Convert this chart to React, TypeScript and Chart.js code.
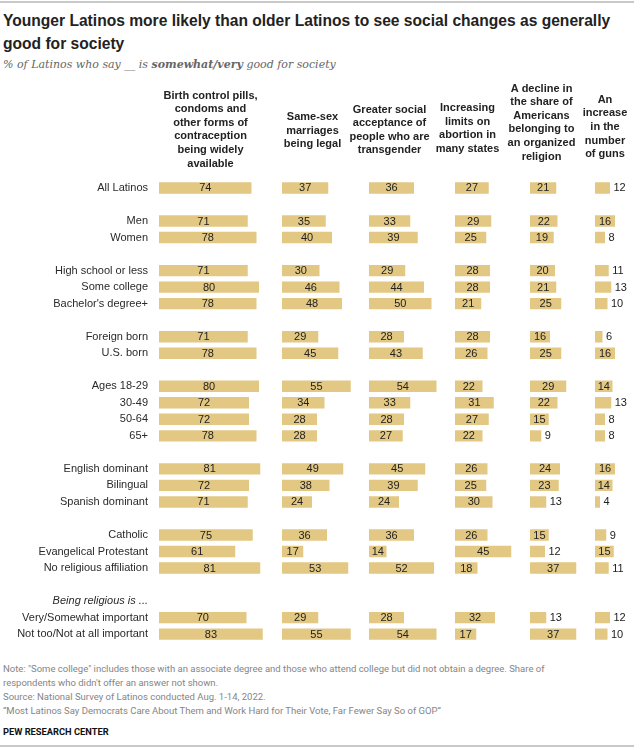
import { useEffect, useRef } from 'react';
import { Chart, registerables } from 'chart.js';

Chart.register(...registerables);

const rowLabels = [
  'All Latinos', '',
  'Men', 'Women', '',
  'High school or less', 'Some college', "Bachelor's degree+", '',
  'Foreign born', 'U.S. born', '',
  'Ages 18-29', '30-49', '50-64', '65+', '',
  'English dominant', 'Bilingual', 'Spanish dominant', '',
  'Catholic', 'Evangelical Protestant', 'No religious affiliation', '',
  'Being religious is ...', 'Very/Somewhat important', 'Not too/Not at all important',
];

const contraception = [74, null, 71, 78, null, 71, 80, 78, null, 71, 78, null, 80, 72, 72, 78, null, 81, 72, 71, null, 75, 61, 81, null, null, 70, 83];
const sameSexMarriage = [37, null, 35, 40, null, 30, 46, 48, null, 29, 45, null, 55, 34, 28, 28, null, 49, 38, 24, null, 36, 17, 53, null, null, 29, 55];
const transgenderAcceptance = [36, null, 33, 39, null, 29, 44, 50, null, 28, 43, null, 54, 33, 28, 27, null, 45, 39, 24, null, 36, 14, 52, null, null, 28, 54];
const abortionLimits = [27, null, 29, 25, null, 28, 28, 21, null, 28, 26, null, 22, 31, 27, 22, null, 26, 25, 30, null, 26, 45, 18, null, null, 32, 17];
const religionDecline = [21, null, 22, 19, null, 20, 21, 25, null, 16, 25, null, 29, 22, 15, 9, null, 24, 23, 13, null, 15, 12, 37, null, null, 13, 37];
const moreGuns = [12, null, 16, 8, null, 11, 13, 10, null, 6, 16, null, 14, 13, 8, 8, null, 16, 14, 4, null, 9, 15, 11, null, null, 12, 10];

const columnHeaders = [
  ['Birth control pills,', 'condoms and', 'other forms of', 'contraception', 'being widely', 'available'],
  ['Same-sex', 'marriages', 'being legal'],
  ['Greater social', 'acceptance of', 'people who are', 'transgender'],
  ['Increasing', 'limits on', 'abortion in', 'many states'],
  ['A decline in', 'the share of', 'Americans', 'belonging to', 'an organized', 'religion'],
  ['An', 'increase', 'in the', 'number', 'of guns'],
];

const seriesList = [contraception, sameSexMarriage, transgenderAcceptance, abortionLimits, religionDecline, moreGuns];

// layout (pixels)
const CANVAS_TOP = 80;
const PX_PER_UNIT = 1.25;
const colWidths = [123, 87, 86, 75, 65, 37];
const headerCenterX = [210.5, 312.5, 389.5, 467.5, 541.5, 605];
const headerCenterY = [129.5, 130.5, 130, 128.5, 122.5, 127];
const BAR_COLOR = '#e2c883';
const LABEL_FONT = '"Liberation Sans", Arial, sans-serif';

const headerPlugin = {
  id: 'colHeaders',
  afterDraw(chart: any) {
    const ctx = chart.ctx;
    ctx.save();
    ctx.font = `bold 11px ${LABEL_FONT}`;
    ctx.fillStyle = '#222';
    ctx.textAlign = 'center';
    ctx.textBaseline = 'middle';
    const lh = 13.6;
    columnHeaders.forEach((lines, i) => {
      const cx = headerCenterX[i];
      const cy = headerCenterY[i] - CANVAS_TOP;
      lines.forEach((ln, j) => {
        ctx.fillText(ln, cx, cy + (j - (lines.length - 1) / 2) * lh);
      });
    });
    ctx.restore();
  },
};

const valuePlugin = {
  id: 'valueLabels',
  afterDatasetsDraw(chart: any) {
    const ctx = chart.ctx;
    ctx.save();
    ctx.font = `11px ${LABEL_FONT}`;
    ctx.fillStyle = '#222';
    ctx.textBaseline = 'middle';
    chart.data.datasets.forEach((ds: any, di: number) => {
      const meta = chart.getDatasetMeta(di);
      meta.data.forEach((el: any, i: number) => {
        const v = ds.data[i];
        if (v === null || v === undefined) return;
        const base = el.base;
        const end = el.x;
        if (v >= 14) {
          ctx.textAlign = 'center';
          ctx.fillText(String(v), (base + end) / 2, el.y + 0.5);
        } else {
          ctx.textAlign = 'left';
          ctx.fillText(String(v), end + 3.5, el.y + 0.5);
        }
      });
    });
    ctx.restore();
  },
};

export default function App() {
  const ref = useRef<HTMLCanvasElement>(null);

  useEffect(() => {
    document.body.style.margin = '0';
    const scales: any = {
      y: {
        type: 'category',
        position: 'left',
        offset: true,
        grid: { display: false, drawTicks: false },
        border: { display: false },
        afterFit: (scale: any) => {
          scale.width = 159;
        },
        ticks: {
          autoSkip: false,
          padding: 11,
          color: '#2a2a2a',
          font: (c: any) =>
            c.index === 25
              ? { family: LABEL_FONT, size: 11, style: 'italic' }
              : { family: LABEL_FONT, size: 11 },
        },
      },
    };
    colWidths.forEach((w, i) => {
      scales['x' + i] = {
        type: 'linear',
        position: 'bottom',
        stack: 'cols',
        stackWeight: w,
        weight: i,
        min: 0,
        max: w / PX_PER_UNIT,
        display: false,
      };
    });

    const chart = new Chart(ref.current!, {
      type: 'bar',
      data: {
        labels: rowLabels,
        datasets: seriesList.map((s, i) => ({
          data: s as any,
          xAxisID: 'x' + i,
          yAxisID: 'y',
          backgroundColor: BAR_COLOR,
          borderWidth: 0,
          grouped: false,
          categoryPercentage: 1,
          barPercentage: 0.69,
        })),
      },
      options: {
        indexAxis: 'y',
        animation: false,
        responsive: false,
        layout: { padding: { top: 99.7, bottom: 5.7, left: 0, right: 8 } },
        plugins: {
          legend: { display: false },
          tooltip: { enabled: false },
        },
        scales,
      },
      plugins: [headerPlugin, valuePlugin],
    });
    return () => chart.destroy();
  }, []);

  const noteStyle: any = {
    position: 'absolute',
    left: 3,
    font: '9.5px Roboto, "Liberation Sans", sans-serif',
    color: '#858585',
    whiteSpace: 'nowrap',
    lineHeight: '14px',
  };

  return (
    <div style={{ position: 'relative', width: 640, height: 750, background: '#fff', overflow: 'hidden' }}>
      <div style={{ position: 'absolute', left: 0, top: 1, width: 634, height: 2, background: '#c9c9c9' }} />
      <div
        style={{
          position: 'absolute',
          left: 3,
          top: 9,
          font: 'bold 16.5px "Liberation Sans", Arial, sans-serif',
          lineHeight: '23px',
          color: '#222',
          whiteSpace: 'nowrap',
          transform: 'scaleX(0.945)',
          transformOrigin: 'left top',
        }}
      >
        Younger Latinos more likely than older Latinos to see social changes as generally
        <br />
        good for society
      </div>
      <div
        style={{
          position: 'absolute',
          left: 3,
          top: 58,
          font: 'italic 11px "DejaVu Serif", "Liberation Serif", serif',
          color: '#666',
          whiteSpace: 'nowrap',
        }}
      >
        % of Latinos who say __ is <b>somewhat/very</b> good for society
      </div>
      <div style={{ position: 'absolute', left: 0, top: CANVAS_TOP, width: 640, height: 580 }}>
        <canvas ref={ref} width={640} height={580} style={{ width: 640, height: 580 }} />
      </div>
      <div style={{ ...noteStyle, top: 662 }}>
        Note: "Some college" includes those with an associate degree and those who attend college but did not obtain a degree. Share of
        <br />
        respondents who didn't offer an answer not shown.
        <br />
        Source: National Survey of Latinos conducted Aug. 1-14, 2022.
        <br />
        “Most Latinos Say Democrats Care About Them and Work Hard for Their Vote, Far Fewer Say So of GOP”
      </div>
      <div
        style={{
          position: 'absolute',
          left: 3,
          top: 726,
          font: 'bold 9.3px Roboto, "Liberation Sans", sans-serif',
          color: '#111',
          whiteSpace: 'nowrap',
        }}
      >
        PEW RESEARCH CENTER
      </div>
      <div style={{ position: 'absolute', left: 0, top: 745, width: 634, height: 1.5, background: '#c9c9c9' }} />
    </div>
  );
}
